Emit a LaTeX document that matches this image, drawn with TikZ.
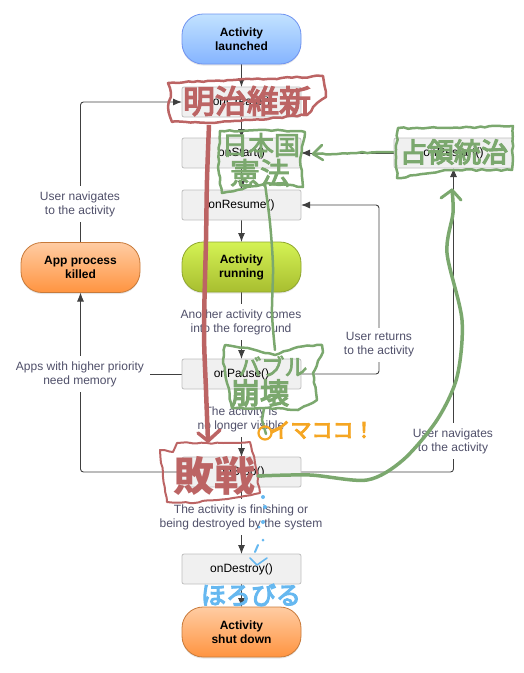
\documentclass[tikz,border=0pt]{standalone}
\usepackage{fontspec}
\setmainfont{Liberation Sans}
\newfontfamily\jp{Noto Sans CJK JP}
\newfontfamily\jpm[FakeBold=4.5]{Noto Sans CJK JP}
\newfontfamily\jpl[FakeBold=3]{Noto Sans CJK JP}
\usetikzlibrary{arrows.meta,shadows,backgrounds,decorations.pathmorphing,positioning}
\definecolor{linec}{HTML}{404040}
\definecolor{labc}{HTML}{50506A}
\definecolor{hred}{HTML}{BC6464}
\definecolor{hgreen}{HTML}{7BA86E}
\definecolor{horange}{HTML}{F5A623}
\definecolor{hblue}{HTML}{66B8F0}
\definecolor{bluetop}{HTML}{C2E2FF}
\definecolor{bluebot}{HTML}{85B4FF}
\definecolor{blueedge}{HTML}{6F93F0}
\definecolor{greentop}{HTML}{D4F254}
\definecolor{greenbot}{HTML}{A8BE30}
\definecolor{greenedge}{HTML}{8FA62E}
\definecolor{orangetop}{HTML}{FFCCA3}
\definecolor{orangebot}{HTML}{FF9440}
\definecolor{orangeedge}{HTML}{C87A3A}
\tikzset{
  pill/.style={rounded corners=21pt,minimum width=119pt,minimum height=50pt,inner sep=0pt,outer sep=0pt,
    align=center,font=\fontsize{12}{14}\selectfont\bfseries,line width=.8pt,
    drop shadow={shadow xshift=0pt,shadow yshift=-1.5pt,opacity=.2}},
  bluepill/.style={pill,draw=blueedge,top color=bluetop,bottom color=bluebot},
  greenpill/.style={pill,draw=greenedge,top color=greentop,bottom color=greenbot},
  orangepill/.style={pill,draw=orangeedge,top color=orangetop,bottom color=orangebot},
  methodbox/.style={rounded corners=2pt,minimum width=119pt,minimum height=30pt,inner sep=0pt,outer sep=0pt,
    draw=black!25,fill=black!6,line width=.8pt,font=\fontsize{12}{14}\selectfont},
  lab/.style={fill=white,inner xsep=6pt,inner ysep=5pt,align=center,text=labc,font=\fontsize{12}{14}\selectfont},
  conn/.style={draw=linec,line width=.9pt,-{Latex[length=9pt,width=7pt]},rounded corners=3pt},
  plain/.style={draw=linec,line width=.9pt,rounded corners=3pt},
  hand/.style={line width=#1,line cap=round,line join=round,decorate,decoration={random steps,segment length=5pt,amplitude=.8pt}},
  hand/.default=2.5pt,
  jptext/.style={inner sep=0pt}
}
\pgfmathsetseed{7}
\begin{document}
\begin{tikzpicture}[x=1pt,y=-1pt]
\useasboundingbox (0,0) rectangle (523,673);
\node[bluepill] (launched) at (241.5,39) {Activity\\launched};
\node[methodbox] (create) at (241.5,102) {onCreate()};
\node[methodbox] (start) at (241.5,153) {onStart()};
\node[methodbox] (resume) at (241.5,205) {onResume()};
\node[greenpill] (running) at (241.5,267) {Activity\\running};
\node[methodbox] (pause) at (241.5,374) {onPause()};
\node[methodbox] (stop) at (241.5,472) {onStop()};
\node[methodbox] (destroy) at (241.5,569) {onDestroy()};
\node[orangepill] (shutdown) at (241.5,632) {Activity\\shut down};
\node[orangepill] (killed) at (80.5,267.5) {App process\\killed};
\node[methodbox] (restart) at (453.5,153) {onRestart()};

\node[lab] (l1) at (80,204) {User navigates\\to the activity};
\node[lab] (l2) at (80,374) {Apps with higher priority\\need memory};
\node[lab] (l3) at (241,322) {Another activity comes\\into the foreground};
\node[lab] (l4) at (241,419) {The activity is\\no longer visible};
\node[lab] (l5) at (241,517) {The activity is finishing or\\being destroyed by the system};
\node[lab] (l6) at (379,345) {User returns\\to the activity};
\node[lab] (l7) at (453,441) {User navigates\\to the activity};

\coordinate (retx) at (379,300);

\begin{scope}[on background layer]
\draw[conn] (launched) -- (create);
\draw[conn] (create) -- (start);
\draw[conn] (start) -- (resume);
\draw[conn] (resume) -- (running);
\draw[conn] (running) -- (pause);
\draw[conn] (pause) -- (stop);
\draw[conn] (stop) -- (destroy);
\draw[conn] (destroy) -- (shutdown);
\draw[conn] (restart) -- (start);
\draw[conn] (killed.north) |- (create.west);
\draw[conn] (stop.west) -| (killed.south);
\draw[plain] (pause.west) -- (l2.east);
\draw[conn] (pause.east) -| (retx) |- (resume.east);
\draw[conn] (stop.east) -| (restart.south);
\end{scope}

% red: Meiji
\draw[hred,hand] (168,83) -- (193,82) -- (233,80) -- (267,79) -- (323,76) -- (326,97) -- (317,103) -- (307,115) -- (250,120) -- (210,123) -- (172,122) -- (168,107) -- (171,93) -- cycle;
\node[jptext,text=hred,font=\jpm\fontsize{32}{32}\selectfont] (meiji) at (247,101) {明治維新};
\draw[hred,line width=4.5pt,line join=round] plot[smooth] coordinates {(209,125) (207,180) (206,240) (204,330) (206,390) (208,441)};
\draw[hred,line width=3.5pt,line cap=round,line join=round] (198,433) -- (208,441) -- (220,430);

% green: constitution
\draw[hgreen,line width=2.5pt,line cap=round] plot[smooth] coordinates {(265,184) (270,223) (273,267) (272,313) (275,350)};
\draw[hgreen,hand] (220,131) -- (267,130) -- (305,132) -- (300,160) -- (303,187) -- (267,183) -- (222,193) -- (218,167) -- cycle;
\node[jptext,text=hgreen,font=\jpl\fontsize{26}{26}\selectfont] (nihonkoku) at (261,145) {日本国};
\node[jptext,text=hgreen,font=\jpl\fontsize{30}{30}\selectfont] (kenpo) at (260,173) {憲法};

% green: occupation
\draw[hgreen,hand] (398,128) -- (450,128) -- (513,126) -- (512,170) -- (450,170) -- (397,178) -- (396,150) -- cycle;
\node[jptext,text=hgreen,font=\jpm\fontsize{27}{27}\selectfont] (senryo) at (454,152) {占領統治};
\draw[hgreen,hand] (393,152) -- (357,153) -- (313,154);
\draw[hgreen,line width=2.5pt,line cap=round,line join=round] (322,145) -- (313,154) -- (323,160);

% green: bubble
\draw[hgreen,hand] (225,345) -- (248,348) -- (265,353) -- (275,355) -- (298,347) -- (322,345) -- (323,352) -- (313,373) -- (317,400) -- (298,410) -- (265,408) -- (232,408) -- (227,383) -- (223,360) -- cycle;
\node[jptext,text=hgreen,font=\jpl\fontsize{23}{23}\selectfont] (baburu) at (273,366) {バブル};
\node[jptext,text=hgreen,font=\jpm\fontsize{29}{29}\selectfont] (hokai) at (260,393) {崩壊};
\draw[hgreen,line width=2.5pt,line cap=round] (264,408) -- (262,420) -- (266,434);

% orange
\draw[horange,line width=2.2pt] (265,433) circle[radius=6.5pt];
\draw[horange,line width=2.2pt] (271,433) -- (281,428);
\node[jptext,text=horange,font=\jpm\fontsize{21}{21}\selectfont] (imakoko) at (322,430) {イマココ！};

% red: defeat
\draw[hred,hand=2pt] (160,450) -- (173,452) -- (177,443) -- (207,443) -- (223,443) -- (250,442) -- (255,463) -- (260,493) -- (233,498) -- (190,503) -- (167,502) -- (163,477) -- cycle;
\node[jptext,text=hred,font=\jp\bfseries\fontsize{41}{41}\selectfont] (haisen) at (214,476) {敗戦};

% green big arc
\draw[hgreen,line width=3.5pt,line cap=round,line join=round] plot[smooth] coordinates {(258,476) (310,475) (367,480) (403,460) (437,420) (457,377) (462,320) (447,253) (453,213) (452,190)};
\draw[hgreen,line width=3pt,line cap=round,line join=round] (441,198) -- (452,190) -- (461,200);

% blue
\node[jptext,text=hblue,font=\jpm\fontsize{25}{25}\selectfont] (horobiru) at (251,595) {ほろびる};
\draw[hblue,line width=1.6pt,line cap=round,line join=round] (250,558) -- (257,565) -- (267,558);
\draw[hblue,line width=2pt,line cap=round] (255,552) -- (258,545);
\fill[hblue] (263,540) circle[radius=1.5pt];
\fill[hblue] (263,497) circle[radius=2pt];
\fill[hblue] (265,507) circle[radius=2pt];
\fill[hblue] (263,522) circle[radius=2pt];
\fill[hblue] (259,527) circle[radius=1.5pt];
\end{tikzpicture}
\end{document}
